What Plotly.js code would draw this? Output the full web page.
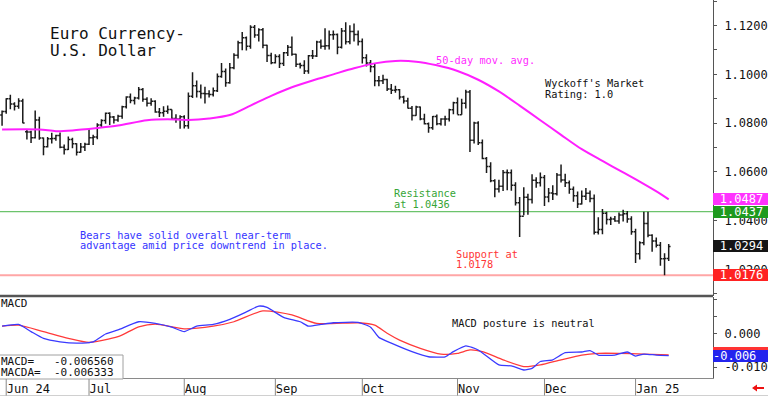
<!DOCTYPE html>
<html>
<head>
<meta charset="utf-8">
<script src="https://cdn.plot.ly/plotly-3.0.1.min.js"></script>
<style>
  html, body { margin: 0; padding: 0; background: #ffffff; }
  #chart { width: 768px; height: 396px; }
</style>
</head>
<body>
<div id="chart"></div>
<script>
// ---------------- DATA ----------------
const dates = [
  "2024-05-31",
  "2024-06-03","2024-06-04","2024-06-05","2024-06-06","2024-06-07",
  "2024-06-10","2024-06-11","2024-06-12","2024-06-13","2024-06-14",
  "2024-06-17","2024-06-18","2024-06-19","2024-06-20","2024-06-21",
  "2024-06-24","2024-06-25","2024-06-26","2024-06-27","2024-06-28",
  "2024-07-01","2024-07-02","2024-07-03","2024-07-04","2024-07-05",
  "2024-07-08","2024-07-09","2024-07-10","2024-07-11","2024-07-12",
  "2024-07-15","2024-07-16","2024-07-17","2024-07-18","2024-07-19",
  "2024-07-22","2024-07-23","2024-07-24","2024-07-25","2024-07-26",
  "2024-07-29","2024-07-30","2024-07-31","2024-08-01","2024-08-02",
  "2024-08-05","2024-08-06","2024-08-07","2024-08-08","2024-08-09",
  "2024-08-12","2024-08-13","2024-08-14","2024-08-15","2024-08-16",
  "2024-08-19","2024-08-20","2024-08-21","2024-08-22","2024-08-23",
  "2024-08-26","2024-08-27","2024-08-28","2024-08-29","2024-08-30",
  "2024-09-02","2024-09-03","2024-09-04","2024-09-05","2024-09-06",
  "2024-09-09","2024-09-10","2024-09-11","2024-09-12","2024-09-13",
  "2024-09-16","2024-09-17","2024-09-18","2024-09-19","2024-09-20",
  "2024-09-23","2024-09-24","2024-09-25","2024-09-26","2024-09-27",
  "2024-09-30","2024-10-01","2024-10-02","2024-10-03","2024-10-04",
  "2024-10-07","2024-10-08","2024-10-09","2024-10-10","2024-10-11",
  "2024-10-14","2024-10-15","2024-10-16","2024-10-17","2024-10-18",
  "2024-10-21","2024-10-22","2024-10-23","2024-10-24","2024-10-25",
  "2024-10-28","2024-10-29","2024-10-30","2024-10-31","2024-11-01",
  "2024-11-04","2024-11-05","2024-11-06","2024-11-07","2024-11-08",
  "2024-11-11","2024-11-12","2024-11-13","2024-11-14","2024-11-15",
  "2024-11-18","2024-11-19","2024-11-20","2024-11-21","2024-11-22",
  "2024-11-25","2024-11-26","2024-11-27","2024-11-28","2024-11-29",
  "2024-12-02","2024-12-03","2024-12-04","2024-12-05","2024-12-06",
  "2024-12-09","2024-12-10","2024-12-11","2024-12-12","2024-12-13",
  "2024-12-16","2024-12-17","2024-12-18","2024-12-19","2024-12-20",
  "2024-12-23","2024-12-24","2024-12-25","2024-12-26","2024-12-27",
  "2024-12-30","2024-12-31","2025-01-02","2025-01-03",
  "2025-01-06","2025-01-07","2025-01-08","2025-01-09","2025-01-10",
  "2025-01-13","2025-01-14"
];

const openPx = [
  1.0833,1.0848,1.0900,1.0878,1.0869,1.0891,1.0765,1.0764,1.0740,1.0813,
  1.0739,1.0703,1.0736,1.0737,1.0749,1.0701,1.0692,1.0733,1.0715,1.0681,
  1.0702,1.0713,1.0740,1.0743,1.0792,1.0811,1.0840,1.0825,1.0813,1.0828,
  1.0867,1.0907,1.0893,1.0903,1.0938,1.0898,1.0882,1.0890,1.0846,1.0843,
  1.0849,1.0856,1.0819,1.0817,1.0826,1.0789,1.0910,1.0953,1.0930,1.0922,
  1.0920,1.0917,1.0933,1.0991,1.1012,1.0966,1.1027,1.1078,1.1130,1.1150,
  1.1115,1.1193,1.1161,1.1183,1.1119,1.1077,1.1048,1.1073,1.1045,1.1089,
  1.1111,1.1083,1.1041,1.1036,1.1014,1.1076,1.1075,1.1133,1.1115,1.1117,
  1.1162,1.1164,1.1111,1.1178,1.1134,1.1176,1.1163,1.1135,1.1068,1.1047,
  1.1031,1.0974,1.0974,1.0979,1.0940,1.0935,1.0937,1.0907,1.0891,1.0861,
  1.0831,1.0866,1.0817,1.0797,1.0781,1.0827,1.0797,1.0817,1.0817,1.0855,
  1.0884,1.0834,1.0882,1.0928,1.0730,1.0801,1.0720,1.0655,1.0622,1.0564,
  1.0530,1.0541,1.0597,1.0596,1.0545,1.0473,1.0418,1.0496,1.0487,1.0566,
  1.0555,1.0577,1.0497,1.0513,1.0510,1.0587,1.0567,1.0555,1.0529,1.0502,
  1.0468,1.0500,1.0512,1.0491,1.0352,1.0364,1.0430,1.0405,1.0407,1.0399,
  1.0423,1.0428,1.0407,1.0354,1.0264,1.0309,1.0388,1.0340,1.0317,1.0299,
  1.0244,1.0245
];
const highPx = [
  1.0852,1.0902,1.0916,1.0886,1.0902,1.0900,1.0776,1.0769,1.0852,1.0826,
  1.0741,1.0743,1.0761,1.0752,1.0762,1.0712,1.0745,1.0740,1.0717,1.0718,
  1.0719,1.0776,1.0752,1.0800,1.0816,1.0844,1.0845,1.0829,1.0834,1.0871,
  1.0910,1.0922,1.0908,1.0948,1.0944,1.0906,1.0902,1.0894,1.0862,1.0869,
  1.0872,1.0856,1.0836,1.0832,1.0832,1.0926,1.1009,1.0975,1.0958,1.0949,
  1.0935,1.0946,1.1004,1.1047,1.1024,1.1047,1.1087,1.1138,1.1174,1.1155,
  1.1201,1.1202,1.1189,1.1190,1.1121,1.1089,1.1083,1.1083,1.1092,1.1120,
  1.1155,1.1085,1.1048,1.1058,1.1079,1.1100,1.1138,1.1143,1.1189,1.1180,
  1.1180,1.1168,1.1190,1.1214,1.1201,1.1209,1.1180,1.1147,1.1082,1.1059,
  1.1047,1.0993,1.0998,1.0982,1.0960,1.0953,1.0940,1.0912,1.0904,1.0870,
  1.0871,1.0868,1.0838,1.0803,1.0829,1.0835,1.0820,1.0830,1.0859,1.0888,
  1.0905,1.0900,1.0937,1.0936,1.0806,1.0808,1.0733,1.0661,1.0640,1.0570,
  1.0568,1.0608,1.0610,1.0610,1.0558,1.0497,1.0537,1.0510,1.0590,1.0578,
  1.0597,1.0587,1.0534,1.0545,1.0595,1.0630,1.0592,1.0565,1.0540,1.0520,
  1.0524,1.0534,1.0524,1.0507,1.0414,1.0448,1.0436,1.0416,1.0419,1.0433,
  1.0445,1.0440,1.0418,1.0367,1.0315,1.0437,1.0436,1.0344,1.0331,1.0312,
  1.0266,1.0304
];
const lowPx = [
  1.0789,1.0838,1.0857,1.0852,1.0859,1.0800,1.0733,1.0718,1.0737,1.0732,
  1.0668,1.0700,1.0716,1.0728,1.0697,1.0671,1.0690,1.0697,1.0667,1.0678,
  1.0686,1.0710,1.0710,1.0734,1.0783,1.0797,1.0792,1.0798,1.0806,1.0818,
  1.0860,1.0882,1.0876,1.0897,1.0888,1.0868,1.0871,1.0843,1.0825,1.0826,
  1.0838,1.0816,1.0802,1.0777,1.0778,1.0777,1.0903,1.0905,1.0901,1.0881,
  1.0905,1.0909,1.0928,1.0986,1.0949,1.0962,1.1021,1.1065,1.1099,1.1098,
  1.1105,1.1150,1.1135,1.1107,1.1051,1.1041,1.1045,1.1026,1.1034,1.1075,
  1.1076,1.1030,1.1024,1.1001,1.1003,1.1063,1.1071,1.1105,1.1101,1.1102,
  1.1142,1.1083,1.1106,1.1122,1.1123,1.1135,1.1118,1.1045,1.1032,1.1009,
  1.0951,1.0951,1.0960,1.0932,1.0919,1.0925,1.0897,1.0880,1.0860,1.0811,
  1.0830,1.0812,1.0794,1.0761,1.0773,1.0791,1.0790,1.0789,1.0807,1.0836,
  1.0835,1.0834,1.0860,1.0682,1.0716,1.0710,1.0652,1.0595,1.0558,1.0496,
  1.0515,1.0522,1.0525,1.0523,1.0462,1.0333,1.0422,1.0424,1.0470,1.0535,
  1.0540,1.0460,1.0475,1.0485,1.0503,1.0556,1.0538,1.0510,1.0478,1.0452,
  1.0466,1.0485,1.0475,1.0343,1.0343,1.0344,1.0384,1.0382,1.0395,1.0387,
  1.0397,1.0391,1.0342,1.0226,1.0241,1.0299,1.0332,1.0272,1.0290,1.0215,
  1.0176,1.0234
];
const closePx = [
  1.0848,1.0900,1.0878,1.0869,1.0891,1.0801,1.0764,1.0740,1.0813,1.0739,
  1.0703,1.0736,1.0737,1.0749,1.0701,1.0692,1.0733,1.0715,1.0681,1.0702,
  1.0713,1.0740,1.0743,1.0792,1.0811,1.0840,1.0825,1.0813,1.0828,1.0867,
  1.0907,1.0893,1.0903,1.0938,1.0898,1.0882,1.0890,1.0846,1.0843,1.0849,
  1.0856,1.0819,1.0817,1.0826,1.0789,1.0910,1.0953,1.0930,1.0922,1.0920,
  1.0917,1.0933,1.0991,1.1012,1.0966,1.1027,1.1078,1.1130,1.1150,1.1115,
  1.1193,1.1161,1.1183,1.1119,1.1077,1.1048,1.1073,1.1045,1.1089,1.1111,
  1.1083,1.1041,1.1036,1.1014,1.1076,1.1075,1.1133,1.1115,1.1117,1.1162,
  1.1164,1.1111,1.1178,1.1134,1.1176,1.1163,1.1135,1.1068,1.1047,1.1031,
  1.0974,1.0974,1.0979,1.0940,1.0935,1.0937,1.0907,1.0891,1.0861,1.0831,
  1.0866,1.0817,1.0797,1.0781,1.0827,1.0797,1.0817,1.0817,1.0855,1.0884,
  1.0834,1.0882,1.0928,1.0730,1.0801,1.0720,1.0655,1.0622,1.0564,1.0530,
  1.0541,1.0597,1.0596,1.0545,1.0473,1.0418,1.0496,1.0487,1.0566,1.0555,
  1.0577,1.0497,1.0513,1.0510,1.0587,1.0567,1.0555,1.0529,1.0502,1.0468,
  1.0500,1.0512,1.0491,1.0352,1.0364,1.0430,1.0405,1.0407,1.0399,1.0423,
  1.0428,1.0407,1.0354,1.0264,1.0309,1.0388,1.0340,1.0317,1.0299,1.0244,
  1.0245,1.0294
];

// 50-day moving average
const maDates = ["2024-05-31","2024-06-13","2024-06-19","2024-06-25","2024-07-03","2024-07-10",
  "2024-07-19","2024-07-26","2024-08-02","2024-08-09","2024-08-16","2024-08-23","2024-08-30",
  "2024-09-06","2024-09-13","2024-09-20","2024-09-27","2024-10-04","2024-10-11","2024-10-18",
  "2024-10-25","2024-11-01","2024-11-08","2024-11-15","2024-11-22","2024-11-29","2024-12-06",
  "2024-12-13","2024-12-20","2024-12-27","2025-01-03","2025-01-10","2025-01-14"];
const maValues = [1.0774,1.0774,1.0767,1.0770,1.0780,1.0790,
  1.0812,1.0816,1.0813,1.0819,1.0833,1.0872,1.0912,
  1.0947,1.0975,1.1000,1.1025,1.1045,1.1055,1.1052,
  1.1037,1.1014,1.0978,1.0930,1.0872,1.0812,1.0752,
  1.0693,1.0645,1.0598,1.0560,1.0510,1.0487];

// MACD (blue) and signal / MACDA (red)
const macdDates = ["2024-05-31","2024-06-06","2024-06-11","2024-06-14","2024-06-20","2024-06-26",
  "2024-07-02","2024-07-05","2024-07-10","2024-07-17","2024-07-23","2024-07-29","2024-08-01",
  "2024-08-06","2024-08-12","2024-08-16","2024-08-22","2024-08-27","2024-08-29","2024-09-04",
  "2024-09-10","2024-09-12","2024-09-17","2024-09-20","2024-09-30","2024-10-03","2024-10-07",
  "2024-10-10","2024-10-17","2024-10-23","2024-10-29","2024-10-31","2024-11-05","2024-11-08",
  "2024-11-15","2024-11-20","2024-11-25","2024-11-27","2024-11-29","2024-12-04","2024-12-09",
  "2024-12-13","2024-12-17","2024-12-19","2024-12-25","2024-12-30","2025-01-02","2025-01-06",
  "2025-01-09","2025-01-14"];
const macdValues = [0.0021,0.0026,0.0005,-0.0015,-0.0025,-0.0029,
  -0.0025,-0.0002,0.0010,0.0034,0.0029,0.0018,0.0005,
  0.0021,0.0026,0.0041,0.0063,0.0080,0.0076,0.0047,
  0.0034,0.0021,0.0026,0.0031,0.0032,0.0018,-0.0012,
  -0.0029,-0.0054,-0.0069,-0.0069,-0.0054,-0.0037,-0.0049,
  -0.0093,-0.0096,-0.0108,-0.0103,-0.0083,-0.0078,-0.0057,
  -0.0055,-0.0051,-0.0064,-0.0064,-0.0055,-0.0067,-0.0061,
  -0.0064,-0.00656];
const signalDates = ["2024-05-31","2024-06-06","2024-06-14","2024-06-24","2024-07-01","2024-07-10",
  "2024-07-17","2024-07-23","2024-08-01","2024-08-12","2024-08-19","2024-08-28","2024-09-06",
  "2024-09-16","2024-09-30","2024-10-04","2024-10-09","2024-10-14","2024-10-21","2024-10-28",
  "2024-11-01","2024-11-06","2024-11-11","2024-11-18","2024-11-25","2024-11-29","2024-12-06",
  "2024-12-13","2024-12-19","2024-12-26","2025-01-06","2025-01-14"];
const signalValues = [0.0021,0.0024,0.0005,-0.0015,-0.0027,-0.0010,
  0.0019,0.0027,0.0013,0.0021,0.0034,0.0066,0.0054,
  0.0029,0.0031,0.0024,0.0000,-0.0020,-0.0044,-0.0061,
  -0.0059,-0.0049,-0.0054,-0.0078,-0.0098,-0.0093,-0.0078,
  -0.0064,-0.0059,-0.0059,-0.0061,-0.00633];

const monthTickDates = ["2024-06-03","2024-07-01","2024-08-01","2024-09-02","2024-10-01","2024-11-01","2024-12-02","2025-01-02"];
const monthTickLabels = ["Jun 24","Jul","Aug","Sep","Oct","Nov","Dec","Jan 25"];

const resistanceLevel = 1.0437;
const supportLevel = 1.0176;
const maLast = 1.0487;
const lastClose = 1.0294;
const macdLast = -0.006560;
const macdaLast = -0.006333;
const macdTagText = "-0.006";

// ---------------- LAYOUT HELPERS ----------------
const W = 768, H = 396;
const M = {l: 0, r: 55, t: 0, b: 18};
const PW = W - M.l - M.r, PH = H - M.t - M.b;
const X = px => (px - M.l) / PW;
const Y = py => (PH - (py - M.t)) / PH;
const MONO = "DejaVu Sans Mono, Liberation Mono, monospace";

function txt(text, px, py, size, color) {
  return {text: text, xref: 'paper', yref: 'paper', x: X(px), y: Y(py),
    xanchor: 'left', yanchor: 'middle', showarrow: false, borderpad: 0, borderwidth: 0,
    font: {family: MONO, size: size, color: color}};
}
function tag(text, yref, yval, bg, align, yshift) {
  return {text: text, xref: 'paper', yref: yref, x: 1, y: yval, xanchor: 'left', yanchor: 'middle',
    showarrow: false, bgcolor: bg, width: 57, height: 12, align: align || 'center',
    borderpad: 0, borderwidth: 0,
    yshift: yshift || 0, font: {family: MONO, size: 12, color: '#ffffff'}};
}

const traces = [
  {type: 'ohlc', x: dates, open: openPx, high: highPx, low: lowPx, close: closePx,
   xaxis: 'x', yaxis: 'y', tickwidth: 0.45, hoverinfo: 'skip',
   increasing: {line: {color: '#1a1a1a', width: 1.5}},
   decreasing: {line: {color: '#1a1a1a', width: 1.5}}},
  {type: 'scatter', mode: 'lines', x: maDates, y: maValues, xaxis: 'x', yaxis: 'y',
   line: {color: '#ff1fff', width: 2, shape: 'spline', smoothing: 0.8}, hoverinfo: 'skip'},
  {type: 'scatter', mode: 'lines', x: signalDates, y: signalValues, xaxis: 'x', yaxis: 'y2',
   line: {color: '#ff3a3a', width: 1.3, shape: 'spline', smoothing: 0.6}, hoverinfo: 'skip'},
  {type: 'scatter', mode: 'lines', x: macdDates, y: macdValues, xaxis: 'x', yaxis: 'y2',
   line: {color: '#3a3aff', width: 1.3, shape: 'spline', smoothing: 0.5}, hoverinfo: 'skip'}
];

const shapes = [
  {type: 'line', xref: 'paper', yref: 'y', x0: 0, x1: 1, y0: resistanceLevel, y1: resistanceLevel,
   line: {color: '#6cc36c', width: 1.2}, layer: 'below'},
  {type: 'line', xref: 'paper', yref: 'y', x0: 0, x1: 1, y0: supportLevel, y1: supportLevel,
   line: {color: '#ffa6a6', width: 2}, layer: 'below'},
  {type: 'line', xref: 'paper', yref: 'paper', x0: 0, x1: 1, y0: Y(296), y1: Y(296),
   line: {color: '#555555', width: 2.5}},
  {type: 'rect', xref: 'paper', yref: 'paper', x0: X(-2), x1: X(123), y0: Y(379), y1: Y(355),
   line: {color: '#a0a0a0', width: 1}, fillcolor: '#ffffff'},
  {type: 'line', xref: 'paper', yref: 'paper', x0: 0, x1: X(768), y0: Y(395.5), y1: Y(395.5),
   line: {color: '#d0d0d0', width: 1}},
  {type: 'path', xref: 'paper', yref: 'paper',
   path: 'M ' + X(752) + ' ' + Y(388) + ' L ' + X(757) + ' ' + Y(384.5) + ' L ' + X(757) + ' ' + Y(387) +
         ' L ' + X(764) + ' ' + Y(387) + ' L ' + X(764) + ' ' + Y(389) + ' L ' + X(757) + ' ' + Y(389) +
         ' L ' + X(757) + ' ' + Y(391.5) + ' Z',
   fillcolor: '#ee1111', line: {width: 0}}
];
monthTickDates.forEach(d => {
  const k = dates.indexOf(d);
  shapes.push({type: 'line', xref: 'x', yref: 'paper', x0: k, x1: k, y0: Y(379), y1: Y(395.5),
    line: {color: '#8a8a8a', width: 1}});
});

const annotations = [
  txt('Euro Currency-', 50, 33, 16, '#111111'),
  txt('U.S. Dollar', 50, 50, 16, '#111111'),
  txt('50-day mov. avg.', 436, 60, 10.3, '#ff2cff'),
  txt("Wyckoff's Market", 545, 83, 10.3, '#111111'),
  txt('Rating: 1.0', 545, 94, 10.3, '#111111'),
  txt('Resistance', 394, 193, 10.3, '#36a536'),
  txt('at 1.0436', 394, 203.5, 10.3, '#36a536'),
  txt('Bears have solid overall near-term', 80, 234.7, 10.3, '#3535ff'),
  txt('advantage amid price downtrend in place.', 80, 245.3, 10.3, '#3535ff'),
  txt('Support at', 456, 253.7, 10.3, '#ff3535'),
  txt('1.0178', 456, 264.3, 10.3, '#ff3535'),
  txt('MACD', 1, 303, 11, '#111111'),
  txt('MACD posture is neutral', 452, 323, 10.3, '#111111'),
  txt('MACD=   ' + macdLast.toFixed(6), 1, 361, 11, '#111111'),
  txt('MACDA=  ' + macdaLast.toFixed(6), 1, 372.7, 11, '#111111'),
  tag(maLast.toFixed(4), 'y', maLast, '#ff33ff'),
  tag(resistanceLevel.toFixed(4), 'y', resistanceLevel, '#1f9a1f'),
  tag(lastClose.toFixed(4), 'y', lastClose, '#151515'),
  tag(supportLevel.toFixed(4), 'y', supportLevel, '#ff2222'),
  tag(' ', 'y2', macdaLast, '#ff3333', 'left', 2),
  tag(macdTagText, 'y2', macdLast, '#2424ee', 'left')
];

const layout = {
  width: W, height: H,
  margin: M,
  paper_bgcolor: '#ffffff', plot_bgcolor: '#ffffff',
  showlegend: false, hovermode: false,
  font: {family: MONO, size: 12, color: '#111111'},
  xaxis: {
    type: 'category', categoryorder: 'array', categoryarray: dates,
    range: [-0.5, 171.7], anchor: 'y2', domain: [0, 1],
    showgrid: false, zeroline: false, showline: true, linecolor: '#8a8a8a', linewidth: 1,
    ticks: '', tickmode: 'array', tickvals: monthTickDates, ticktext: monthTickLabels,
    ticklabelposition: 'outside right', tickfont: {family: MONO, size: 12, color: '#111111'},
    rangeslider: {visible: false}, fixedrange: true
  },
  yaxis: {
    domain: [Y(295.5), 1], anchor: 'x', side: 'right', range: [1.0093, 1.1305],
    tickmode: 'linear', tick0: 1.0, dtick: 0.02, tickformat: '.4f',
    ticks: 'outside', ticklen: 3, tickcolor: '#555555', ticklabelstandoff: 5,
    minor: {tickmode: 'linear', tick0: 1.0, dtick: 0.01, ticks: 'outside', ticklen: 3, tickcolor: '#555555'},
    showline: true, linecolor: '#555555', linewidth: 1, showgrid: false, zeroline: false,
    tickfont: {family: MONO, size: 12, color: '#111111'}, fixedrange: true
  },
  yaxis2: {
    domain: [0, Y(297)], anchor: 'x', side: 'right', range: [-0.01315, 0.01068],
    tickmode: 'array', tickvals: [0, -0.01], ticktext: ['0.000', '-0.010'],
    ticks: 'outside', ticklen: 3, tickcolor: '#555555', ticklabelstandoff: 5,
    minor: {tickmode: 'linear', tick0: 0, dtick: 0.005, ticks: 'outside', ticklen: 3, tickcolor: '#555555'},
    showline: true, linecolor: '#555555', linewidth: 1, showgrid: false, zeroline: false,
    tickfont: {family: MONO, size: 12, color: '#111111'}, fixedrange: true
  },
  shapes: shapes,
  annotations: annotations
};

Plotly.newPlot('chart', traces, layout, {staticPlot: true, displayModeBar: false});
</script>
</body>
</html>
